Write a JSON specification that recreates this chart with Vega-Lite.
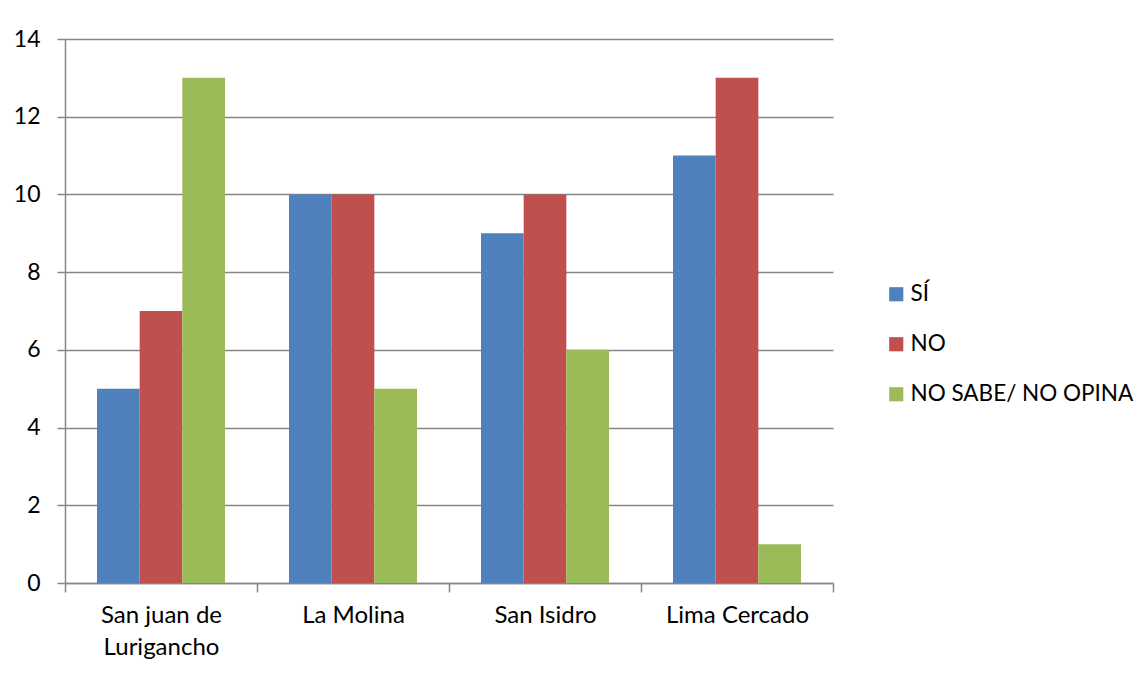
{
  "$schema": "https://vega.github.io/schema/vega-lite/v6.json",
  "width": 768,
  "height": 544,
  "autosize": {"type": "none"},
  "padding": {"left": 65, "top": 39, "right": 314, "bottom": 93},
  "background": "white",
  "data": {
    "values": [
      {"distrito": "San juan de Lurigancho", "respuesta": "SÍ", "valor": 5},
      {"distrito": "San juan de Lurigancho", "respuesta": "NO", "valor": 7},
      {"distrito": "San juan de Lurigancho", "respuesta": "NO SABE/ NO OPINA", "valor": 13},
      {"distrito": "La Molina", "respuesta": "SÍ", "valor": 10},
      {"distrito": "La Molina", "respuesta": "NO", "valor": 10},
      {"distrito": "La Molina", "respuesta": "NO SABE/ NO OPINA", "valor": 5},
      {"distrito": "San Isidro", "respuesta": "SÍ", "valor": 9},
      {"distrito": "San Isidro", "respuesta": "NO", "valor": 10},
      {"distrito": "San Isidro", "respuesta": "NO SABE/ NO OPINA", "valor": 6},
      {"distrito": "Lima Cercado", "respuesta": "SÍ", "valor": 11},
      {"distrito": "Lima Cercado", "respuesta": "NO", "valor": 13},
      {"distrito": "Lima Cercado", "respuesta": "NO SABE/ NO OPINA", "valor": 1}
    ]
  },
  "mark": {"type": "bar"},
  "encoding": {
    "x": {
      "field": "distrito",
      "type": "nominal",
      "sort": ["San juan de Lurigancho", "La Molina", "San Isidro", "Lima Cercado"],
      "scale": {"paddingInner": 0, "paddingOuter": 0},
      "axis": {
        "title": null,
        "labelAngle": 0,
        "tickBand": "extent",
        "grid": false,
        "domainColor": "#868686",
        "domainWidth": 1.5,
        "tickColor": "#868686",
        "tickWidth": 1.5,
        "tickSize": 9,
        "labelPadding": 11,
        "labelFont": "Lato",
        "labelFontSize": 24,
        "labelColor": "#000000",
        "labelLineHeight": 32,
        "labelExpr": "datum.label == 'San juan de Lurigancho' ? ['San juan de', 'Lurigancho'] : datum.label"
      }
    },
    "xOffset": {
      "field": "respuesta",
      "type": "nominal",
      "sort": ["SÍ", "NO", "NO SABE/ NO OPINA"],
      "scale": {"paddingInner": 0, "paddingOuter": 0.75}
    },
    "y": {
      "field": "valor",
      "type": "quantitative",
      "scale": {"domain": [0, 14], "nice": false},
      "axis": {
        "title": null,
        "values": [0, 2, 4, 6, 8, 10, 12, 14],
        "grid": true,
        "gridColor": "#868686",
        "gridWidth": 1.5,
        "domainColor": "#868686",
        "domainWidth": 1.5,
        "tickColor": "#868686",
        "tickWidth": 1.5,
        "tickSize": 8,
        "labelPadding": 17,
        "labelFont": "Lato",
        "labelFontSize": 23,
        "labelColor": "#000000"
      }
    },
    "color": {
      "field": "respuesta",
      "type": "nominal",
      "sort": ["SÍ", "NO", "NO SABE/ NO OPINA"],
      "scale": {
        "domain": ["SÍ", "NO", "NO SABE/ NO OPINA"],
        "range": ["#4F81BD", "#C0504D", "#9BBB59"]
      },
      "legend": {
        "title": null,
        "orient": "none",
        "legendX": 820,
        "legendY": 244,
        "symbolType": "square",
        "symbolSize": 200,
        "symbolStrokeWidth": 0,
        "labelFont": "Lato",
        "labelFontSize": 22.5,
        "labelColor": "#000000",
        "labelOffset": 3,
        "rowPadding": 27,
        "padding": 0
      }
    }
  },
  "config": {
    "view": {"stroke": null},
    "axis": {"labelLimit": 400},
    "legend": {"labelLimit": 400}
  }
}
